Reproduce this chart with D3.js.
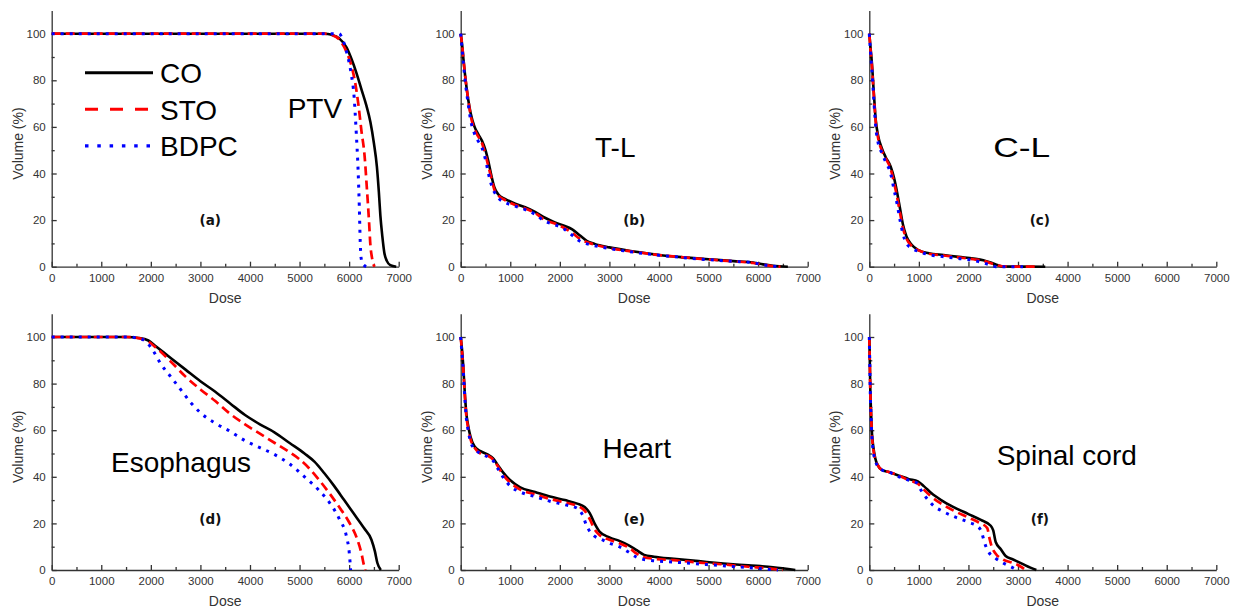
<!DOCTYPE html>
<html lang="en">
<head>
<meta charset="utf-8" />
<title>DVH comparison – CO / STO / BDPC</title>
<script src="https://cdn.jsdelivr.net/npm/d3@7"></script>
<style>
  body { margin: 0; background: #fff; }
  svg  { display: block; font-family: "Liberation Sans", Arial, sans-serif; }
  .axis path, .axis line { stroke: #333; stroke-width: 1.3px; }
  .axis text { fill: #333; font-size: 11.5px; font-family: "Liberation Sans", Arial, sans-serif; }
  .title { fill: #333; font-size: 14px; }
  .organ { fill: #000; font-size: 28px; }
  .tag   { fill: #111; font-size: 13.5px; font-weight: bold; font-family: "DejaVu Sans", Verdana, sans-serif; }
  .curve { fill: none; }
</style>
</head>
<body>
<svg id="chart" width="1241" height="608"></svg>
<script>
// ---- data: [dose, volume %] ----
const series = ["CO", "STO", "BDPC"];

const ptvCO   = [[0,100],[5500,100],[5650,99.5],[5800,98],[5950,94],[6050,89],[6150,83],[6250,76],[6350,69],[6430,62],[6500,53],[6560,43],[6600,32],[6630,22],[6670,13],[6710,6],[6760,2.5],[6830,0.7],[6950,0]];
const ptvSTO  = [[0,100],[5500,100],[5650,99.5],[5800,97.5],[5950,92],[6050,86],[6130,78],[6190,69],[6250,58],[6310,48],[6360,33],[6400,20],[6430,9],[6460,4],[6510,0]];
const ptvBDPC = [[0,100],[5800,100],[5850,98.5],[5950,92],[6040,83],[6100,73],[6145,57],[6180,42],[6205,26],[6225,10],[6240,4],[6280,1],[6350,0]];

const tlCO   = [[0,100],[30,95],[60,88],[100,80],[150,72],[200,66],[280,60],[350,57],[430,54],[500,50],[560,45],[620,39],[680,34],[760,31],[900,29],[1100,27],[1300,25.5],[1500,23.5],[1700,21],[1900,19],[2100,17.5],[2250,16],[2400,13.5],[2550,11],[2700,9.8],[3000,8.3],[3500,6.5],[4000,5],[4500,4],[5000,3.2],[5500,2.4],[5900,1.8],[6100,1],[6300,0.4],[6600,0]];
const tlSTO  = [[0,100],[30,95],[60,88],[100,80],[150,72],[200,65],[280,59],[350,56],[430,53],[500,48],[560,43],[620,38],[680,33],[760,30.5],[900,28.5],[1100,26.5],[1300,25],[1500,23],[1700,20],[1900,18.5],[2100,16.5],[2250,14.5],[2400,12],[2550,10.5],[2700,9.5],[3000,8],[3500,6.4],[4000,5],[4500,4],[5000,3.1],[5500,2.3],[5900,1.6],[6100,0.9],[6300,0.2],[6450,0]];
const tlBDPC = [[0,100],[30,93],[60,86],[100,78],[150,70],[200,63],[280,57],[350,54],[430,51],[500,46],[560,40],[620,35],[680,32],[760,29.5],[900,27.5],[1100,26],[1300,24.5],[1500,22.5],[1700,19.5],[1900,18],[2100,16],[2250,13.5],[2400,11],[2550,9.8],[2700,9],[3000,7.8],[3500,6.2],[4000,4.9],[4500,3.9],[5000,3],[5500,2.3],[5900,1.7],[6100,0.8],[6300,0.2],[6450,0]];

const clCO   = [[0,100],[25,94],[50,88],[90,75],[130,63],[180,56],[250,51],[330,47],[430,43],[500,38],[560,32],[620,25],[680,18],[750,13],[850,9.5],[1000,7],[1200,5.8],[1500,5],[1800,4.2],[2100,3.5],[2300,2.8],[2450,1.8],[2600,0.6],[2700,0.1],[3550,0]];
const clSTO  = [[0,100],[25,93],[50,87],[90,74],[130,62],[180,55],[250,50],[330,46.5],[430,42],[500,36],[560,30],[620,23],[680,16.5],[750,12],[850,9],[1000,7],[1200,5.6],[1500,4.8],[1800,4],[2100,3.2],[2300,2.5],[2450,1.5],[2600,0.5],[2750,0.1],[3400,0]];
const clBDPC = [[0,100],[25,92],[50,85],[90,72],[130,60],[180,53],[250,49],[330,45],[430,40],[500,33],[560,27],[620,20],[680,14],[750,10],[850,8],[1000,6.5],[1200,5.2],[1500,4.3],[1800,3.5],[2100,2.7],[2300,1.6],[2450,0.7],[2550,0],[3100,0]];

const esoCO   = [[0,100],[1500,100],[1750,99.6],[1950,98.5],[2100,96],[2400,91],[2700,86],[3000,81],[3300,76.5],[3600,71.5],[3900,66.5],[4200,62.5],[4500,59],[4800,54.5],[5100,50],[5300,46.5],[5500,41.5],[5700,36],[5900,30],[6100,24],[6300,18],[6450,13],[6520,8],[6570,3],[6640,0]];
const esoSTO  = [[0,100],[1500,100],[1750,99.5],[1950,98],[2100,95.5],[2400,89.5],[2700,83],[3000,77.5],[3300,72.5],[3600,67],[3900,62.5],[4200,58.5],[4500,54.5],[4800,50.5],[5000,47.5],[5200,43.5],[5400,38.5],[5600,33],[5800,27],[6000,20.5],[6150,14],[6250,7],[6300,2],[6330,0]];
const esoBDPC = [[0,100],[1500,100],[1750,99.5],[1900,98],[2050,94],[2200,88.5],[2400,83],[2600,77.5],[2800,72],[3000,67.5],[3300,63],[3600,59.5],[3900,55.5],[4200,52.5],[4500,49.5],[4800,45.5],[5100,40],[5400,34],[5600,29],[5800,22],[5950,14],[6000,8],[6020,3],[6030,0]];

const heartCO   = [[0,100],[25,95],[50,88],[80,77],[110,68],[150,62],[200,57],[280,53],[400,51],[550,49.5],[650,48],[750,45],[850,42],[1000,38.5],[1200,35.5],[1500,33.5],[1800,31.5],[2100,30],[2350,28.5],[2500,27],[2600,24.5],[2700,20],[2800,16.5],[3000,14],[3200,12.5],[3400,10.5],[3550,8.5],[3700,6.5],[3900,5.7],[4300,4.8],[4800,3.8],[5300,2.8],[5800,2],[6300,1.2],[6750,0]];
const heartSTO  = [[0,100],[25,94],[50,87],[80,76],[110,67],[150,61],[200,56],[280,52.5],[400,50],[550,49],[650,47.5],[750,44.5],[850,41],[1000,37.5],[1200,34.5],[1500,32.5],[1800,30.5],[2100,29],[2350,27.5],[2500,25.5],[2600,22],[2700,17.5],[2800,15],[3000,13],[3200,11.5],[3400,9.5],[3550,7],[3700,5.5],[3900,4.8],[4300,4.2],[4800,3.2],[5300,2.4],[5800,1.4],[6200,0.7],[6500,0]];
const heartBDPC = [[0,100],[25,93],[50,86],[80,75],[110,66],[150,60],[200,55],[280,52],[400,50],[550,48.5],[650,47],[750,43.5],[850,40],[1000,36],[1200,33.5],[1500,31.5],[1800,29.5],[2100,28],[2350,26.5],[2450,24],[2550,18.5],[2700,14.5],[2850,13],[3000,11.5],[3200,10],[3400,7.5],[3550,5.5],[3700,4.5],[3900,4],[4300,3.4],[4800,2.6],[5300,1.8],[5800,1],[6200,0.3],[6400,0]];

const cordCO   = [[0,100],[10,90],[20,78],[35,68],[50,60],[80,53],[120,48],[170,45],[250,43],[400,42],[600,40.5],[800,39],[980,38],[1100,36],[1250,33],[1450,30],[1700,27],[2000,24],[2250,21.5],[2450,19],[2500,17],[2550,12],[2650,9],[2750,6],[2900,4.5],[3100,2.5],[3250,1],[3370,0]];
const cordSTO  = [[0,100],[10,89],[20,77],[35,67],[50,59],[80,52],[120,47.5],[170,45],[250,43],[400,42],[600,40.5],[800,38.5],[980,37],[1100,34.5],[1250,31.5],[1450,28.5],[1700,25.5],[2000,22.5],[2200,20.5],[2380,18],[2420,14],[2470,10],[2550,7],[2700,4.5],[2900,3],[3050,1.5],[3150,0]];
const cordBDPC = [[0,100],[10,88],[20,76],[35,66],[50,58],[80,51],[120,47],[170,44.5],[250,43],[400,42],[600,40],[800,38.5],[950,37.5],[1050,34],[1150,31],[1300,27.5],[1500,25],[1700,23],[2000,20.5],[2200,18.5],[2270,16],[2320,12],[2400,8],[2550,5],[2700,3],[2850,1.5],[2980,0]];

const organNames  = ["PTV", "T-L", "C-L", "Esophagus", "Heart", "Spinal cord"];
const panelTags   = ["(a)", "(b)", "(c)", "(d)", "(e)", "(f)"];
const panelCurves = [
  [ptvCO, ptvSTO, ptvBDPC], [tlCO, tlSTO, tlBDPC], [clCO, clSTO, clBDPC],
  [esoCO, esoSTO, esoBDPC], [heartCO, heartSTO, heartBDPC], [cordCO, cordSTO, cordBDPC]
];
const xMajor = [0,1000,2000,3000,4000,5000,6000,7000];
const xMinor = [500,1500,2500,3500,4500,5500,6500];
const yMajor = [0,20,40,60,80,100];
const yMinor = [10,30,50,70,90];

// ---- layout ----
const colX = [51.7, 460.7, 869.3];
const rowY = [10.4, 313.7];
const W = 347, H = 256.3;
// label anchors in data units [dose, volume]
const organPos = [[4760,64],[2710,47],[2500,47.2],[1196,42.2],[2860,47.9],[2570,45]];
const tagPos   = [[3200,17.9],[3500,17.9],[3440,17.9],[3200,19.7],[3500,19.7],[3440,19.7]];

const styles = [
  { color: "#000",    width: 2.6, dash: null,  legendDash: null },
  { color: "#ff0000", width: 2.7, dash: "9,5", legendDash: "13,12" },
  { color: "#0000ff", width: 3,   dash: "3,6", legendDash: "3.5,8.8" }
];

const svg = d3.select("#chart");
const x = d3.scaleLinear().domain([0, 7000]).range([0, W]);
const y = d3.scaleLinear().domain([0, 110]).range([H, 0]);
const line = d3.line().x(d => x(d[0])).y(d => y(d[1])).curve(d3.curveMonotoneX);

panelCurves.forEach((curves, i) => {
  const g = svg.append("g").attr("transform", `translate(${colX[i % 3]},${rowY[Math.floor(i / 3)]})`);

  // axes, ticks point inward
  g.append("g").attr("class", "axis").attr("transform", `translate(0,${H})`)
    .call(d3.axisBottom(x).tickValues(xMajor).tickFormat(d3.format("d")).tickSizeInner(-5).tickSizeOuter(0).tickPadding(7));
  g.append("g").attr("class", "axis").attr("transform", `translate(0,${H})`)
    .call(d3.axisBottom(x).tickValues(xMinor).tickFormat("").tickSizeInner(-3).tickSizeOuter(0))
    .select(".domain").remove();
  g.append("g").attr("class", "axis")
    .call(d3.axisLeft(y).tickValues(yMajor).tickSizeInner(-5).tickSizeOuter(0).tickPadding(6));
  g.append("g").attr("class", "axis")
    .call(d3.axisLeft(y).tickValues(yMinor).tickFormat("").tickSizeInner(-3).tickSizeOuter(0))
    .select(".domain").remove();

  g.append("text").attr("class", "title").attr("text-anchor", "middle")
    .attr("x", W / 2).attr("y", H + 36).text("Dose");
  g.append("text").attr("class", "title").attr("text-anchor", "middle")
    .attr("transform", `translate(${-29},${H / 2 + 5}) rotate(-90)`).text("Volume (%)");

  curves.forEach((data, k) => {
    g.append("path").attr("class", "curve")
      .attr("d", line(data))
      .attr("stroke", styles[k].color)
      .attr("stroke-width", styles[k].width)
      .attr("stroke-dasharray", styles[k].dash);
  });

  const organ = g.append("text").attr("class", "organ")
    .attr("x", x(organPos[i][0])).attr("y", y(organPos[i][1])).text(organNames[i]);
  if (organNames[i] === "C-L") organ.attr("textLength", 57).attr("lengthAdjust", "spacingAndGlyphs");

  g.append("text").attr("class", "tag").attr("text-anchor", "middle")
    .attr("x", x(tagPos[i][0])).attr("y", y(tagPos[i][1])).text(panelTags[i]);
});

// legend in panel (a)
const legend = svg.append("g");
series.forEach((name, k) => {
  const ly = 72.7 + k * 36.6;
  legend.append("line").attr("x1", 85).attr("x2", 153).attr("y1", ly).attr("y2", ly)
    .attr("stroke", styles[k].color).attr("stroke-width", styles[k].width + 0.4)
    .attr("stroke-dasharray", styles[k].legendDash);
  legend.append("text").attr("class", "organ").attr("x", 160).attr("y", ly + 10.5).text(name);
});
</script>
</body>
</html>
